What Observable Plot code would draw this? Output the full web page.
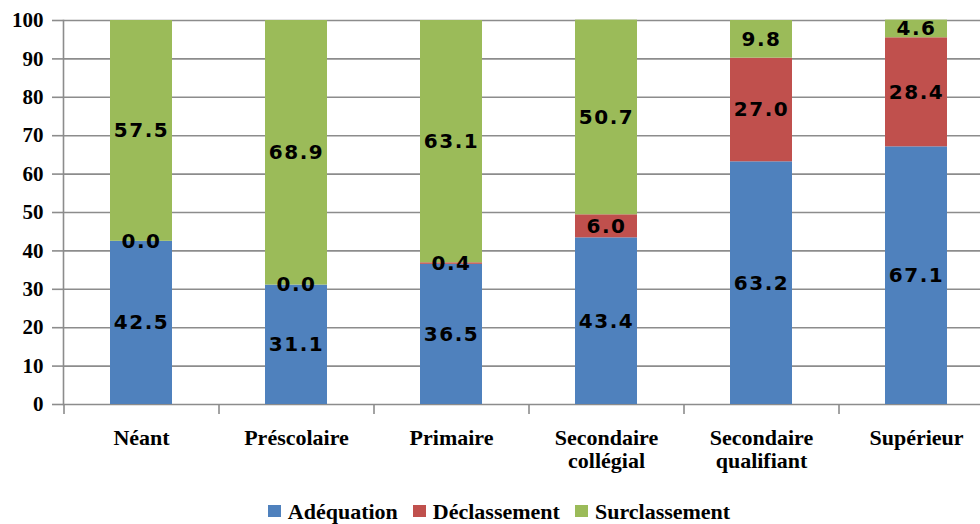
<!DOCTYPE html>
<html>
<head>
<meta charset="utf-8">
<script src="https://cdn.jsdelivr.net/npm/d3@7"></script>
<script src="https://cdn.jsdelivr.net/npm/@observablehq/plot@0.6"></script>
<style>
  html, body { margin: 0; padding: 0; background: #fff; overflow: hidden; width: 980px; height: 524px; }
  #chart svg { display: block; overflow: hidden; }
  #chart g[aria-label="text"] text { letter-spacing: 1.5px; }
  #legend { height: 34px; box-sizing: border-box; padding-top: 11px; padding-left: 18px;
            display: flex; justify-content: center; font-family: "Liberation Serif", serif; font-weight: 700;
            font-size: 22px; line-height: 22px; color: #000; }
  #legend .item { margin: 0 7.5px; white-space: nowrap; font-weight: 700; }
  #legend .sw { display: inline-block; width: 13px; height: 12px; margin-right: 7px; vertical-align: 2px; }
</style>
</head>
<body>
<div id="chart"></div>
<div id="legend"></div>
<script>
const categories = ["Néant", "Préscolaire", "Primaire", "Secondaire\ncollégial", "Secondaire\nqualifiant", "Supérieur"];
const series = ["Adéquation", "Déclassement", "Surclassement"];
const adequation = [42.5, 31.1, 36.5, 43.4, 63.2, 67.1];
const declassement = [0.0, 0.0, 0.4, 6.0, 27.0, 28.4];
const surclassement = [57.5, 68.9, 63.1, 50.7, 9.8, 4.6];
const yTicks = [0, 10, 20, 30, 40, 50, 60, 70, 80, 90, 100];
const colors = ["#4F81BD", "#C0504D", "#9BBB59"];

const seriesValues = [adequation, declassement, surclassement];
const rows = [];
series.forEach((s, i) => {
  categories.forEach((c, j) => rows.push({category: c, series: s, value: seriesValues[i][j]}));
});

const gray = "#8c8c8c";
const serif = "Liberation Serif";

const chart = Plot.plot({
  width: 980,
  height: 490,
  marginLeft: 63,
  marginRight: 0,
  marginTop: 20,
  marginBottom: 86,
  x: {domain: categories, range: [63, 993], paddingInner: 0.6, paddingOuter: 0.3, label: null},
  y: {domain: [0, 100], label: null},
  color: {domain: series, range: colors},
  marks: [
    Plot.ruleY(yTicks, {stroke: gray, strokeWidth: 1.6}),
    Plot.barY(rows, Plot.stackY({x: "category", y: "value", fill: "series"})),
    Plot.text(rows, Plot.stackY({
      x: "category", y: "value", z: "series",
      text: d => d.value.toFixed(1),
      fill: "black", fontFamily: "DejaVu Sans", fontWeight: "bold", fontSize: 20
    })),
    Plot.frame({anchor: "left", stroke: gray, strokeWidth: 1.6}),
    Plot.axisY({ticks: yTicks, tickSize: 11, tickPadding: 9, stroke: gray, strokeWidth: 1.6, label: null,
      fill: "black", fontFamily: serif, fontWeight: "bold", fontSize: 21}),
    Plot.axisX({tickSize: 10, dx: -77.5, text: null, label: null, stroke: gray, strokeWidth: 1.6}),
    Plot.axisX({tickSize: 0, tickPadding: 24, lineHeight: 1.05, fill: "black", label: null,
      fontFamily: serif, fontWeight: "bold", fontSize: 22})
  ]
});
document.getElementById("chart").appendChild(chart);

const legend = document.getElementById("legend");
series.forEach((s, i) => {
  const item = document.createElement("span");
  item.className = "item";
  const sw = document.createElement("span");
  sw.className = "sw";
  sw.style.background = colors[i];
  item.appendChild(sw);
  item.appendChild(document.createTextNode(s));
  legend.appendChild(item);
});
</script>
</body>
</html>
